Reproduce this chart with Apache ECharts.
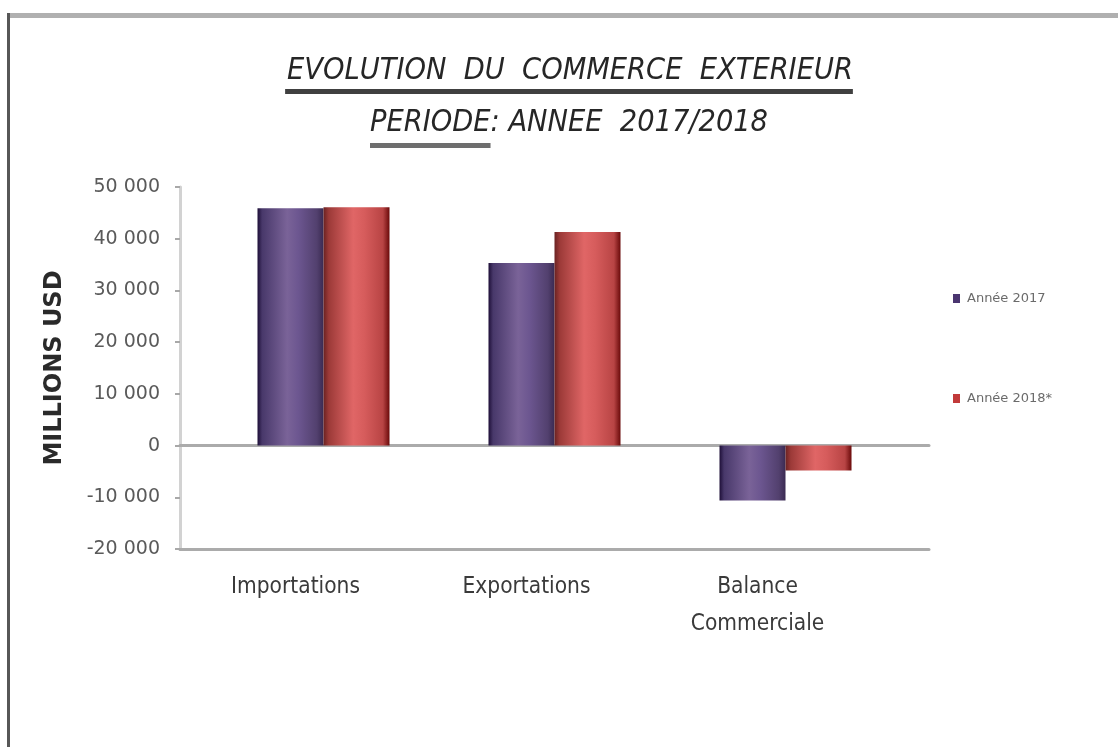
<!DOCTYPE html>
<html>
<head>
<meta charset="utf-8">
<script src="https://cdn.jsdelivr.net/npm/echarts@6/dist/echarts.min.js"></script>
<style>
html,body{margin:0;padding:0;background:#fff;}
#chart{width:1118px;height:747px;}
</style>
</head>
<body>
<div id="chart"></div>
<script>
// ---- data ----
const categories = ['Importations', 'Exportations', 'Balance\nCommerciale'];
const seriesNames = ['Année 2017', 'Année 2018*'];
const values2017 = [45900, 35300, -10600];
const values2018 = [46100, 41300, -4800];
const yTicks = { min: -20000, max: 50000, interval: 10000 };
const titleLine1 = 'EVOLUTION  DU  COMMERCE  EXTERIEUR';
const titleLine2a = 'PERIODE';
const titleLine2b = ': ANNEE  2017/2018';
const yAxisTitle = 'MILLIONS USD';

// ---- styles ----
const FONT = '"DejaVu Sans", sans-serif';
const FONT_COND = '"DejaVu Sans Condensed", "DejaVu Sans", sans-serif';

function grad(stops) {
  return new echarts.graphic.LinearGradient(0, 0, 1, 0,
    stops.map(s => ({ offset: s[0], color: s[1] })));
}
const purpleGrad = grad([[0, '#1e0f38'], [0.07, '#48386a'], [0.45, '#7a6398'], [0.62, '#6c5690'], [0.9, '#52406e'], [1, '#3a2a52']]);
const redGrad = grad([[0, '#6a2222'], [0.08, '#9c3a38'], [0.45, '#e06666'], [0.62, '#d65c5c'], [0.9, '#b84444'], [1, '#6a0a0a']]);

// measure text for title layout
const ctx = document.createElement('canvas').getContext('2d');
function tw(txt, font) { ctx.font = font; return ctx.measureText(txt).width; }
const targetW = 566;
let tSize = 30;
const tFontOf = s => 'italic ' + s + 'px ' + FONT_COND;
tSize = tSize * targetW / tw(titleLine1, tFontOf(tSize));
const tFont = tFontOf(tSize);
const cx1 = 570, cx2 = 569;
const w1 = tw(titleLine1, tFont);
const w2a = tw(titleLine2a, tFont);
const w2 = tw(titleLine2a + titleLine2b, tFont);
const x2 = cx2 - w2 / 2;

const chart = echarts.init(document.getElementById('chart'), null, { renderer: 'canvas' });

const axisLineStyle = { color: '#ababab', width: 3 };
const yRange = { min: yTicks.min, max: yTicks.max, interval: yTicks.interval };

chart.setOption({
  animation: false,
  backgroundColor: '#ffffff',
  graphic: [
    { type: 'rect', shape: { x: 7, y: 13, width: 1111, height: 5 }, style: { fill: '#b0b0b0' } },
    { type: 'rect', shape: { x: 7, y: 13, width: 3, height: 734 }, style: { fill: '#575757' } },
    { type: 'text', x: cx1, y: 71, style: { text: titleLine1, font: tFont, fill: '#262626', textAlign: 'center', textVerticalAlign: 'middle' } },
    { type: 'rect', shape: { x: cx1 - w1 / 2 - 2, y: 89, width: w1 + 2, height: 5 }, style: { fill: '#404040' } },
    { type: 'text', x: x2, y: 123, style: { text: titleLine2a + titleLine2b, font: tFont, fill: '#262626', textAlign: 'left', textVerticalAlign: 'middle' } },
    { type: 'rect', shape: { x: x2, y: 143, width: w2a, height: 5 }, style: { fill: '#6e6e6e' } }
  ],
  legend: {
    data: [
      { name: seriesNames[0], itemStyle: { color: '#4a3570' } },
      { name: seriesNames[1], itemStyle: { color: '#c23a3a' } }
    ],
    orient: 'vertical',
    left: 953,
    top: 292,
    padding: 0,
    itemWidth: 7,
    itemHeight: 9,
    itemGap: 87,
    icon: 'rect',
    textStyle: { color: '#6b6b6b', fontSize: 13, fontFamily: FONT, padding: [0, 0, 0, 2] }
  },
  grid: [
    { left: 208, right: 217, top: 187, bottom: 198 },
    { left: 180, right: 189, top: 187, bottom: 198 },
    { left: 180, right: 245, top: 187, bottom: 198 }
  ],
  xAxis: [
    {
      type: 'category', gridIndex: 0, data: categories, position: 'bottom',
      axisLine: { show: false, onZero: false }, axisTick: { show: false },
      axisLabel: { show: false }, splitLine: { show: false }
    },
    {
      type: 'value', gridIndex: 1, min: 0, max: 1, position: 'bottom',
      axisLine: { show: true, onZero: true, lineStyle: axisLineStyle },
      axisTick: { show: false }, axisLabel: { show: false }, splitLine: { show: false }
    },
    {
      type: 'value', gridIndex: 1, min: 0, max: 1, position: 'bottom',
      axisLine: { show: true, onZero: false, lineStyle: axisLineStyle },
      axisTick: { show: false }, axisLabel: { show: false }, splitLine: { show: false }
    },
    {
      type: 'category', gridIndex: 2, data: categories, position: 'bottom',
      axisLine: { show: false, onZero: false }, axisTick: { show: false },
      axisLabel: { color: '#3a3a3a', fontSize: 22.5, fontFamily: FONT_COND, margin: 20, lineHeight: 37, interval: 0 },
      splitLine: { show: false }
    }
  ],
  yAxis: [
    { type: 'value', gridIndex: 0, ...yRange, show: false, splitLine: { show: false } },
    {
      type: 'value', gridIndex: 1, ...yRange,
      axisLine: { show: true, onZero: false, lineStyle: { color: '#d2d2d2', width: 3 } },
      axisTick: { show: true, length: 5, lineStyle: { color: '#a8a8a8', width: 2 } },
      axisLabel: {
        color: '#5a5a5a', fontSize: 19, fontFamily: FONT, margin: 20,
        formatter: v => (v < 0 ? '-' : '') + echarts.format.addCommas(Math.abs(v)).replace(/,/g, ' ')
      },
      splitLine: { show: false },
      name: yAxisTitle, nameLocation: 'middle', nameGap: 113,
      nameTextStyle: { color: '#2a2a2a', fontSize: 24, fontWeight: 'bold', fontFamily: FONT }
    },
    { type: 'value', gridIndex: 2, ...yRange, show: false, splitLine: { show: false } }
  ],
  series: [
    {
      name: seriesNames[0], type: 'bar', xAxisIndex: 0, yAxisIndex: 0,
      data: values2017, barWidth: 66, barGap: '0%',
      itemStyle: { color: purpleGrad }
    },
    {
      name: seriesNames[1], type: 'bar', xAxisIndex: 0, yAxisIndex: 0,
      data: values2018, barWidth: 66, barGap: '0%',
      itemStyle: { color: redGrad }
    }
  ]
});
</script>
</body>
</html>
